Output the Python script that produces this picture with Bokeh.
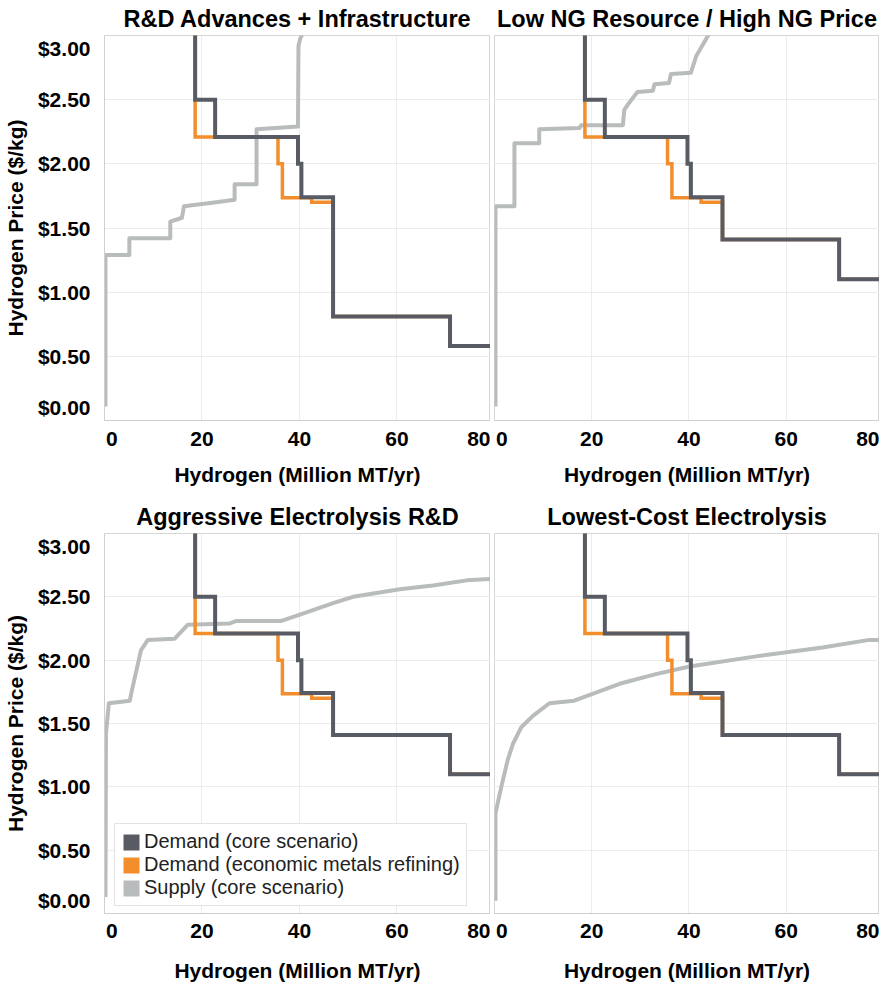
from bokeh.plotting import figure
from bokeh.layouts import column, row
from bokeh.models import Range1d, FixedTicker, NumeralTickFormatter
from bokeh.embed import file_html
from bokeh.resources import INLINE

# ---------------- data ----------------
titles = ["R&D Advances + Infrastructure", "Low NG Resource / High NG Price",
          "Aggressive Electrolysis R&D", "Lowest-Cost Electrolysis"]

# demand step curves (x = Million MT/yr breakpoints, y = $/kg)
demand_core_x = [8.0, 18.6, 22.7, 39.7, 40.4, 46.9, 70.9, 81.0]
demand_econ_x = [8.0, 18.6, 35.6, 36.5, 42.5, 46.9, 70.9, 81.0]
demand_core_y_rd = [3.02, 2.50, 2.21, 2.00, 1.74, 0.81, 0.58, 0.58]
demand_econ_y_rd = [3.02, 2.21, 2.00, 1.735, 1.70, 0.81, 0.58, 0.58]
demand_core_y = [3.02, 2.50, 2.21, 2.00, 1.74, 1.41, 1.10, 1.10]
demand_econ_y = [3.02, 2.21, 2.00, 1.735, 1.70, 1.41, 1.10, 1.10]

# supply curves
supply_rd_x = [0.2, 0.2, 5.1, 5.1, 13.5, 13.5, 15.9, 16.3, 22.9, 26.7, 26.7, 31.2, 31.2, 39.7, 39.8, 40.2, 41.1]
supply_rd_y = [0.11, 1.29, 1.29, 1.42, 1.42, 1.55, 1.58, 1.67, 1.70, 1.72, 1.84, 1.84, 2.27, 2.29, 2.92, 2.98, 3.05]

supply_ng_x = [0.2, 0.2, 4.1, 4.1, 9.2, 9.2, 17.5, 17.8, 26.4, 26.7, 27.4, 28.4, 29.4, 32.6, 32.9, 35.9, 36.3, 40.4, 41.5, 44.4]
supply_ng_y = [0.11, 1.67, 1.67, 2.16, 2.16, 2.27, 2.28, 2.30, 2.30, 2.42, 2.46, 2.51, 2.56, 2.57, 2.62, 2.63, 2.70, 2.71, 2.84, 3.03]

supply_ae_x = [0.2, 0.3, 0.9, 5.2, 5.5, 7.5, 8.9, 14.4, 16.1, 17.1, 25.7, 27.1, 36.3, 40.1, 46.9, 51.0, 60.6, 67.4, 74.3, 79.1, 80.5]
supply_ae_y = [0.13, 1.42, 1.66, 1.68, 1.74, 2.08, 2.16, 2.17, 2.24, 2.28, 2.29, 2.31, 2.31, 2.36, 2.45, 2.50, 2.56, 2.59, 2.63, 2.64, 2.65]

supply_lc_x = [0.2, 0.2, 1.4, 2.7, 3.8, 5.5, 7.9, 11.3, 16.4, 26.3, 33.2, 40.1, 53.8, 67.5, 77.1, 79.8]
supply_lc_y = [0.10, 0.79, 1.00, 1.21, 1.34, 1.47, 1.56, 1.66, 1.68, 1.82, 1.89, 1.95, 2.03, 2.10, 2.16, 2.16]

supply_x = [supply_rd_x, supply_ng_x, supply_ae_x, supply_lc_x]
supply_y = [supply_rd_y, supply_ng_y, supply_ae_y, supply_lc_y]
core_y = [demand_core_y_rd, demand_core_y, demand_core_y, demand_core_y]
econ_y = [demand_econ_y_rd, demand_econ_y, demand_econ_y, demand_econ_y]

series_names = ["Demand (core scenario)", "Demand (economic metals refining)", "Supply (core scenario)"]

x_grid = [0, 20, 40, 60, 80]
x_tick_pos = [1.5, 20, 40, 60, 76.9]
x_tick_text = {1.5: "0", 76.9: "80"}
y_grid = [0, 0.5, 1.0, 1.5, 2.0, 2.5, 3.0]
y_tick_pos = [0.1, 0.5, 1.0, 1.5, 2.0, 2.5, 2.9]
y_tick_text = {0.1: "$0.00", 2.9: "$3.00"}

# ---------------- style ----------------
C_DARK = "#585b63"
C_ORANGE = "#f28e2b"
C_GREY = "#b9bcbc"
FONT = "Liberation Sans"
NAN = float("nan")


def make_panel(i):
    left = (i % 2 == 0)
    top = (i < 2)
    p = figure(frame_width=386 if left else 385,
               frame_height=385 if top else 380,
               x_range=Range1d(0, 79.2), y_range=Range1d(0, 3.0),
               output_backend="svg", toolbar_location=None,
               min_border_left=95 if left else 4, min_border_right=0,
               min_border_top=33 if top else 34,
               min_border_bottom=77 if top else 70,
               background_fill_color="white", border_fill_color="white")
    p.title.text = titles[i]
    p.title.align = "center"
    p.title.text_font = FONT
    p.title.text_font_size = "23.5px"
    p.title.text_font_style = "bold"
    p.title.text_color = "#000000"
    p.title.standoff = 6.5 if top else 7.5

    p.outline_line_color = "#d6d6d6"
    p.outline_line_width = 1

    p.xgrid.ticker = FixedTicker(ticks=x_grid)
    p.ygrid.ticker = FixedTicker(ticks=y_grid)
    p.xgrid.grid_line_color = "#ececec"
    p.ygrid.grid_line_color = "#ececec"

    xa = p.xaxis[0]
    xa.ticker = FixedTicker(ticks=x_tick_pos)
    xa.major_label_overrides = x_tick_text
    xa.axis_label = "Hydrogen (Million MT/yr)"
    for ax in [xa, p.yaxis[0]]:
        ax.axis_line_color = "#cfcfcf"
        ax.major_tick_line_color = None
        ax.minor_tick_line_color = None
        ax.major_label_text_font = FONT
        ax.major_label_text_font_size = "21px"
        ax.major_label_text_font_style = "bold"
        ax.major_label_text_color = "#000000"
        ax.axis_label_text_font = FONT
        ax.axis_label_text_font_size = "21px"
        ax.axis_label_text_font_style = "bold"
        ax.axis_label_text_color = "#000000"
    xa.major_label_standoff = 5 if top else 4
    xa.axis_label_standoff = 14 if top else 18

    ya = p.yaxis[0]
    if left:
        ya.ticker = FixedTicker(ticks=y_tick_pos)
        ya.formatter = NumeralTickFormatter(format="$0.00")
        ya.major_label_overrides = y_tick_text
        ya.axis_label = "Hydrogen Price ($/kg)"
        ya.major_label_standoff = 8
        ya.axis_label_standoff = 8
    else:
        ya.visible = False

    p.line(supply_x[i], supply_y[i], line_color=C_GREY, line_width=4, line_join="round")
    p.step(demand_econ_x, econ_y[i], mode="after", line_color=C_ORANGE, line_width=3.5, line_join="miter")
    p.step(demand_core_x, core_y[i], mode="after", line_color=C_DARK, line_width=4, line_join="miter")
    return p


panels = [make_panel(i) for i in range(4)]

# legend in the third panel (swatch-only renderers with no visible geometry)
p3 = panels[2]
for name, col in zip(series_names, [C_DARK, C_ORANGE, C_GREY]):
    p3.quad(left=[NAN], right=[NAN], top=[NAN], bottom=[NAN],
            fill_color=col, line_color=None, legend_label=name)
lg = p3.legend[0]
lg.location = (10, 7)
lg.padding = 6
lg.spacing = 0
lg.margin = 0
lg.glyph_width = 20
lg.glyph_height = 20
lg.label_standoff = 3
lg.label_text_font = FONT
lg.label_text_font_size = "20px"
lg.label_text_color = "#222222"
lg.border_line_color = "#c8c8c8"
lg.border_line_width = 1.5
lg.background_fill_alpha = 1.0

layout = column(row(panels[0], panels[1]), row(panels[2], panels[3]))

open("out.html", "w").write(file_html(layout, INLINE))
